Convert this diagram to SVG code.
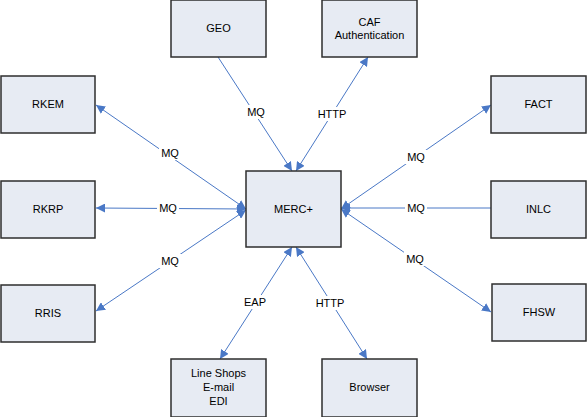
<svg xmlns="http://www.w3.org/2000/svg" width="587" height="417" viewBox="0 0 587 417">
<style>
.box{fill:#e7ebf3;stroke:#2e2e2e;stroke-width:1.5}
.lbl{font-family:"Liberation Sans",Arial,sans-serif;font-size:11px;fill:#000;text-anchor:middle}
.ln{stroke:#4a78c6;stroke-width:1;fill:none}
.bg{fill:#fff}
</style>
<defs>
<marker id="ah" viewBox="0 0 10 10" refX="10" refY="5" markerWidth="9" markerHeight="9" markerUnits="userSpaceOnUse" orient="auto-start-reverse">
<path d="M0,0 L10,5 L0,10 Z" fill="#4a78c6"/>
</marker>
</defs>
<rect width="587" height="417" fill="#fff"/>
<g id="connectors">
<line class="ln" x1="218" y1="57" x2="292" y2="171" marker-end="url(#ah)"/>
<line class="ln" x1="296" y1="171" x2="368" y2="57" marker-start="url(#ah)" marker-end="url(#ah)"/>
<line class="ln" x1="246" y1="209" x2="96" y2="105" marker-start="url(#ah)" marker-end="url(#ah)"/>
<line class="ln" x1="246" y1="209" x2="96" y2="208" marker-start="url(#ah)" marker-end="url(#ah)"/>
<line class="ln" x1="246" y1="210" x2="96" y2="311" marker-start="url(#ah)" marker-end="url(#ah)"/>
<line class="ln" x1="341" y1="209" x2="491" y2="105" marker-start="url(#ah)" marker-end="url(#ah)"/>
<line class="ln" x1="491" y1="208" x2="341" y2="208" marker-end="url(#ah)"/>
<line class="ln" x1="341" y1="209" x2="491" y2="312" marker-start="url(#ah)" marker-end="url(#ah)"/>
<line class="ln" x1="292" y1="247" x2="220" y2="359" marker-start="url(#ah)" marker-end="url(#ah)"/>
<line class="ln" x1="296" y1="247" x2="367" y2="359" marker-start="url(#ah)" marker-end="url(#ah)"/>
<rect class="bg" x="245" y="105" width="22" height="14"/>
<text class="lbl" x="256" y="116">MQ</text>
<rect class="bg" x="315" y="107" width="34" height="14"/>
<text class="lbl" x="332" y="118">HTTP</text>
<rect class="bg" x="159" y="146" width="22" height="14"/>
<text class="lbl" x="170" y="157">MQ</text>
<rect class="bg" x="157" y="201" width="22" height="14"/>
<text class="lbl" x="168" y="212">MQ</text>
<rect class="bg" x="159" y="254" width="22" height="14"/>
<text class="lbl" x="170" y="265">MQ</text>
<rect class="bg" x="405" y="150" width="22" height="14"/>
<text class="lbl" x="416" y="161">MQ</text>
<rect class="bg" x="405" y="201" width="22" height="14"/>
<text class="lbl" x="416" y="212">MQ</text>
<rect class="bg" x="404" y="252" width="22" height="14"/>
<text class="lbl" x="415" y="263">MQ</text>
<rect class="bg" x="244" y="295" width="23" height="14"/>
<text class="lbl" x="255" y="306">EAP</text>
<rect class="bg" x="313" y="296" width="34" height="14"/>
<text class="lbl" x="330" y="307">HTTP</text>
</g>
<g id="GEO"><rect class="box" x="171" y="0" width="95" height="57"/><text class="lbl" x="218.5" y="32">GEO</text></g>
<g id="CAF"><rect class="box" x="322" y="0" width="95" height="57"/><text class="lbl" x="369.5" y="26">CAF</text><text class="lbl" x="369.5" y="39">Authentication</text></g>
<g id="RKEM"><rect class="box" x="1" y="76" width="94" height="57"/><text class="lbl" x="48" y="108">RKEM</text></g>
<g id="RKRP"><rect class="box" x="1" y="181" width="94" height="57"/><text class="lbl" x="48" y="213">RKRP</text></g>
<g id="RRIS"><rect class="box" x="1" y="285" width="94" height="57"/><text class="lbl" x="48" y="317">RRIS</text></g>
<g id="MERC"><rect class="box" x="246" y="171" width="95" height="76"/><text class="lbl" x="293.5" y="213">MERC+</text></g>
<g id="FACT"><rect class="box" x="491" y="76" width="95" height="57"/><text class="lbl" x="538.5" y="108">FACT</text></g>
<g id="INLC"><rect class="box" x="491" y="181" width="95" height="57"/><text class="lbl" x="538.5" y="213">INLC</text></g>
<g id="FHSW"><rect class="box" x="492" y="284" width="94" height="57"/><text class="lbl" x="539" y="316">FHSW</text></g>
<g id="LineShops"><rect class="box" x="171" y="359" width="95" height="58"/><text class="lbl" x="218.5" y="377">Line Shops</text><text class="lbl" x="218.5" y="391">E-mail</text><text class="lbl" x="218.5" y="405">EDI</text></g>
<g id="Browser"><rect class="box" x="322" y="359" width="95" height="58"/><text class="lbl" x="369.5" y="391">Browser</text></g>
</svg>
